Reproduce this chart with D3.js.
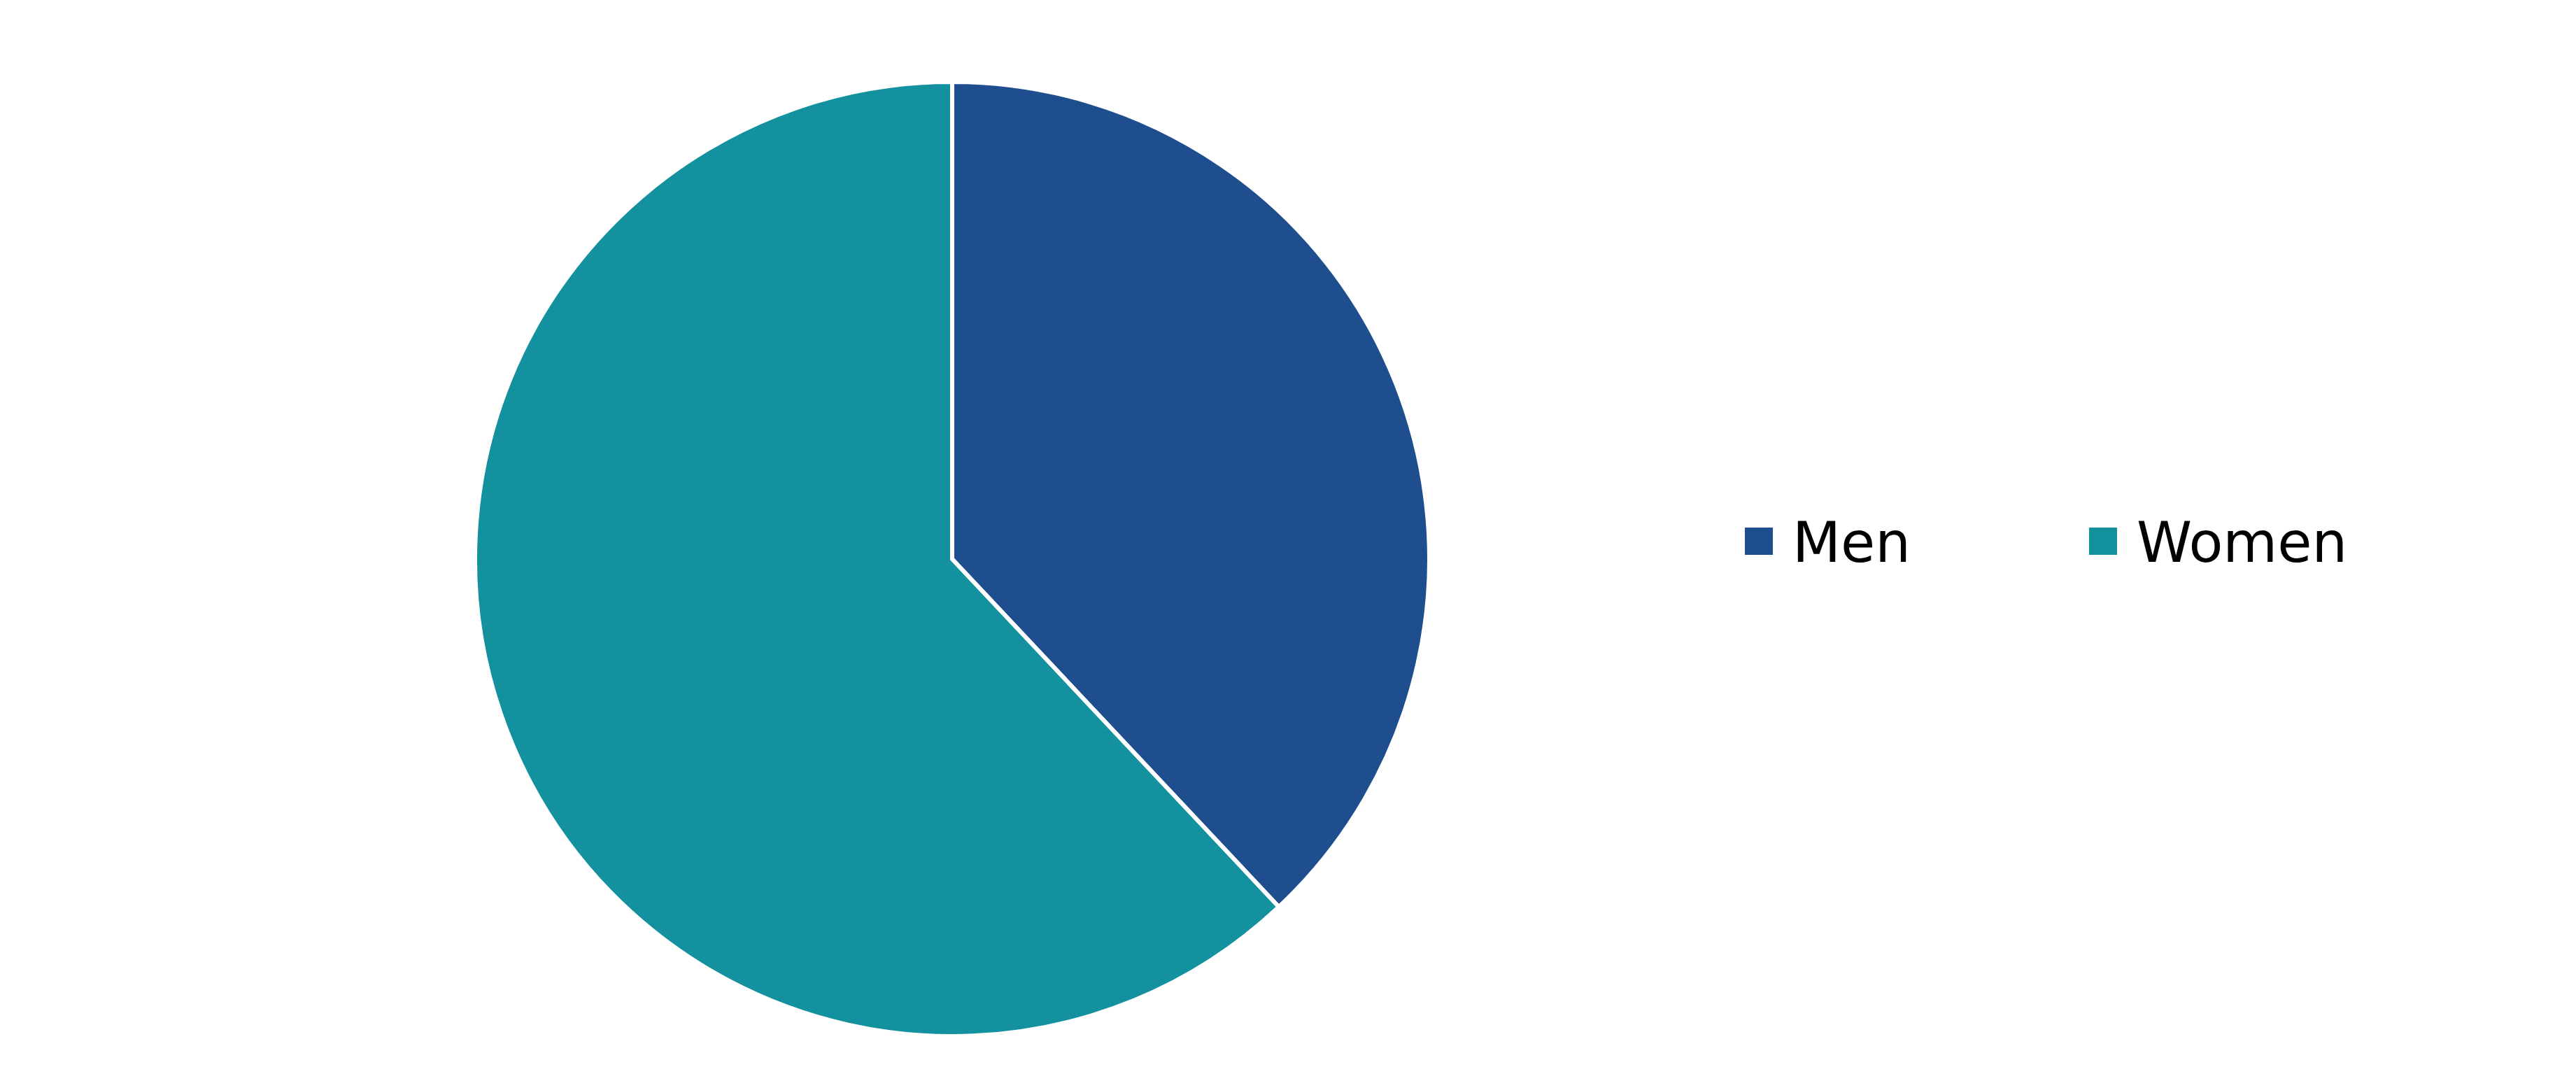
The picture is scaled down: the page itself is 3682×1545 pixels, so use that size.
<!DOCTYPE html>
<html>
<head>
<meta charset="utf-8">
<script src="https://cdn.jsdelivr.net/npm/d3@7"></script>
<style>
  body { margin: 0; background: #fff; }
  svg { display: block; }
</style>
</head>
<body>
<svg id="pieChart" width="3682" height="1545"></svg>
<script>
const categories = ["Men", "Women"];
const shares = [38, 62];
const colors = ["#1F4E8F", "#13919E"];

const width = 3682;
const height = 1545;
const radius = 682;
const cx = 1361, cy = 799;

const data = categories.map((c, i) => ({ label: c, value: shares[i] }));

const svg = d3.select("#pieChart");

const color = d3.scaleOrdinal().domain(categories).range(colors);

const pie = d3.pie()
    .value(d => d.value)
    .sort(null);

const arc = d3.arc()
    .outerRadius(radius)
    .innerRadius(0);

// pie slices
svg.append("g")
    .attr("transform", `translate(${cx}, ${cy})`)
    .selectAll("path")
    .data(pie(data))
    .enter()
    .append("path")
    .attr("d", arc)
    .attr("fill", d => color(d.data.label))
    .attr("stroke", "#fff")
    .attr("stroke-width", 6)
    .attr("stroke-linejoin", "miter");

// legend
const legendX = d3.scalePoint().domain(categories).range([2494, 2986]);

const items = svg.append("g")
    .selectAll("g")
    .data(categories)
    .enter()
    .append("g")
    .attr("transform", d => `translate(${legendX(d)}, 0)`);

items.append("rect")
    .attr("x", 0)
    .attr("y", 754)
    .attr("width", 40)
    .attr("height", 39)
    .attr("fill", d => color(d));

items.append("text")
    .attr("x", 68)
    .attr("y", 803)
    .attr("font-family", "DejaVu Sans")
    .attr("font-size", 80)
    .attr("fill", "#000")
    .text(d => d);
</script>
</body>
</html>
